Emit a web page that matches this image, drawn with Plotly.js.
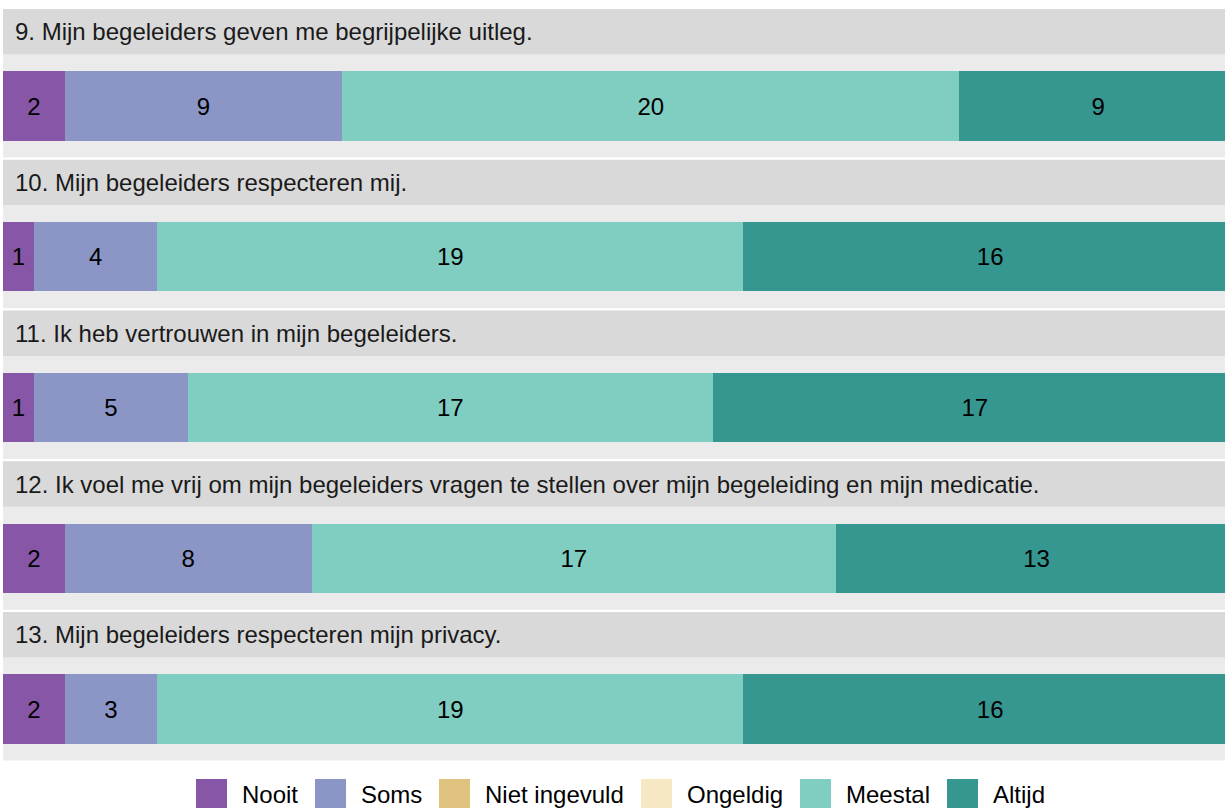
<!DOCTYPE html>
<html>
<head>
<meta charset="utf-8">
<script src="https://cdn.plot.ly/plotly-3.0.1.min.js"></script>
<style>
html, body { margin: 0; padding: 0; overflow: hidden; background: #ffffff; }
#chart { width: 1240px; height: 808px; }
</style>
</head>
<body>
<div id="chart"></div>
<script>
// ---- data ----
const questions = [
  "9. Mijn begeleiders geven me begrijpelijke uitleg.",
  "10. Mijn begeleiders respecteren mij.",
  "11. Ik heb vertrouwen in mijn begeleiders.",
  "12. Ik voel me vrij om mijn begeleiders vragen te stellen over mijn begeleiding en mijn medicatie.",
  "13. Mijn begeleiders respecteren mijn privacy."
];
const categories = ["Nooit", "Soms", "Niet ingevuld", "Ongeldig", "Meestal", "Altijd"];
const nooit        = [2, 1, 1, 2, 2];
const soms         = [9, 4, 5, 8, 3];
const nietIngevuld = [0, 0, 0, 0, 0];
const ongeldig     = [0, 0, 0, 0, 0];
const meestal      = [20, 19, 17, 17, 19];
const altijd       = [9, 16, 17, 13, 16];
const colors = ["#8856a7", "#8c96c6", "#dfc27d", "#f6e8c3", "#80cdc1", "#35978f"];

const series = [nooit, soms, nietIngevuld, ongeldig, meestal, altijd];

// ---- layout helpers (pixel geometry) ----
const W = 1240, H = 808, ML = 3, MR = 3;
const PW = W - ML - MR;
const px2x = p => (p - ML) / PW;
const px2y = p => 1 - p / H;

const FONT = "Liberation Sans, Arial, Helvetica, sans-serif";
const FS = 24;
const traces = [];
const shapes = [];
const annotations = [];
const layout = {
  width: W, height: H,
  margin: {l: ML, r: MR, t: 0, b: 0},
  paper_bgcolor: "#ffffff",
  plot_bgcolor: "#ebebeb",
  barmode: "stack",
  showlegend: false,
  font: {family: FONT, size: FS, color: "#000000"},
  shapes: shapes,
  annotations: annotations
};

questions.forEach((q, k) => {
  const top = 9 + 150.75 * k;
  const stripBottom = top + 45.5;
  const panelBottom = top + 148.5;
  const ax = k === 0 ? "" : String(k + 1);
  layout["xaxis" + ax] = {
    domain: [0, 1], range: [0, 40], anchor: "y" + ax,
    showgrid: false, zeroline: false, showticklabels: false, ticks: "", fixedrange: true
  };
  layout["yaxis" + ax] = {
    domain: [px2y(panelBottom), px2y(stripBottom)], range: [-0.5, 0.5], anchor: "x" + ax,
    showgrid: false, zeroline: false, showticklabels: false, ticks: "", fixedrange: true
  };
  // strip
  shapes.push({
    type: "rect", xref: "paper", yref: "paper",
    x0: 0, x1: 1, y0: px2y(stripBottom), y1: px2y(top),
    fillcolor: "#d9d9d9", line: {width: 0}, layer: "below"
  });
  annotations.push({
    xref: "paper", yref: "paper",
    x: px2x(13), y: px2y((top + stripBottom) / 2),
    xanchor: "left", yanchor: "middle", showarrow: false,
    text: q, font: {family: FONT, size: FS, color: "#1a1a1a"}
  });
  // bars
  categories.forEach((c, i) => {
    const v = series[i][k];
    if (v === 0) return;
    traces.push({
      type: "bar", orientation: "h",
      x: [v], y: [0],
      xaxis: "x" + ax, yaxis: "y" + ax,
      width: 0.67,
      name: c,
      marker: {color: colors[i], line: {width: 0}},
      text: [String(v)],
      textposition: "inside",
      insidetextanchor: "middle",
      constraintext: "none",
      textfont: {family: FONT, size: FS, color: "#000000"},
      hoverinfo: "name+x"
    });
  });
});

// ---- legend (built from categories / colors) ----
const legendSquares = [196, 315, 439, 641, 800, 947];
categories.forEach((c, i) => {
  const x0 = legendSquares[i];
  shapes.push({
    type: "rect", xref: "paper", yref: "paper",
    x0: px2x(x0), x1: px2x(x0 + 31), y0: px2y(808), y1: px2y(779),
    fillcolor: colors[i], line: {width: 0}
  });
  annotations.push({
    xref: "paper", yref: "paper",
    x: px2x(x0 + 44), y: px2y(794),
    xanchor: "left", yanchor: "middle", showarrow: false,
    text: c, font: {family: FONT, size: FS, color: "#000000"}
  });
});

Plotly.newPlot("chart", traces, layout, {displayModeBar: false, staticPlot: true});
</script>
</body>
</html>
